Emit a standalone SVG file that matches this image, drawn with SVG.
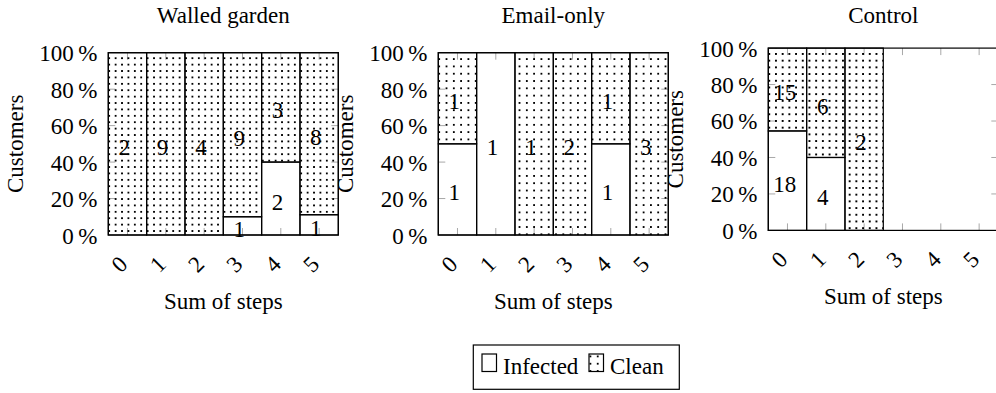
<svg xmlns="http://www.w3.org/2000/svg" xmlns:xlink="http://www.w3.org/1999/xlink" width="996" height="393" viewBox="0 0 996 393" font-family="'Liberation Serif', 'DejaVu Serif', serif">
  <style>
    .t { font-family: 'Liberation Serif', 'DejaVu Serif', serif; font-size: 23px; fill: #000; }
    .mid { text-anchor: middle; }
    .end { text-anchor: end; }
    .inf { fill: none; stroke: #000; stroke-width: 1.2; }
    .cln { stroke: #000; stroke-width: 1.2; }
    .c1 { fill: url(#dots1); }
    .c2 { fill: url(#dots2); }
    .c3 { fill: url(#dots3); }
    .tick { stroke: #a8a8a8; stroke-width: 1; fill: none; }
    .frame { fill: none; stroke: #000; stroke-width: 1.2; }
    .dot { fill: #000; shape-rendering: crispEdges; }
  </style>
  <defs>
    <!-- dot hatches used for the "Clean" segments -->
    <pattern id="dots1" patternUnits="userSpaceOnUse" x="108.3" y="50.9" width="6.4" height="6.4">
      <rect class="dot" x="0" y="0" width="2" height="2"/>
    </pattern>
    <pattern id="dots2" patternUnits="userSpaceOnUse" x="108.3" y="50.9" width="7.3" height="7.3">
      <rect class="dot" x="0" y="0" width="2" height="2"/>
    </pattern>
    <pattern id="dots3" patternUnits="userSpaceOnUse" x="108.3" y="50.9" width="6.7" height="6.7">
      <rect class="dot" x="0" y="0" width="2" height="2"/>
    </pattern>
    <pattern id="dotsL" patternUnits="userSpaceOnUse" x="589.5" y="355.5" width="7.3" height="7.3">
      <rect class="dot" x="0" y="0" width="2" height="2"/>
    </pattern>
    <!-- inner tick marks of one axis box (box: x 108.3..338.3, y 52.7..235) -->
    <g id="ticks" class="tick">
      <path d="M108.3 198.54h7M108.3 162.08h7M108.3 125.62h7M108.3 89.16h7"/>
      <path d="M338.3 198.54h-7M338.3 162.08h-7M338.3 125.62h-7M338.3 89.16h-7"/>
      <path d="M127.47 235v-7M165.8 235v-7M204.13 235v-7M242.47 235v-7M280.8 235v-7M319.13 235v-7"/>
      <path d="M127.47 52.7v7M165.8 52.7v7M204.13 52.7v7M242.47 52.7v7M280.8 52.7v7M319.13 52.7v7"/>
    </g>
  </defs>

  <!-- Panel 1: Walled garden -->
  <g id="panel-walled-garden">
    <text class="t mid" x="223.3" y="22.7">Walled garden</text>
    <use xlink:href="#ticks"/>
    <g id="wg-bars">
      <rect class="cln c1" x="108.3" y="52.7" width="38.33" height="182.3"/>
      <rect class="cln c1" x="146.63" y="52.7" width="38.33" height="182.3"/>
      <rect class="cln c1" x="184.97" y="52.7" width="38.33" height="182.3"/>
      <rect class="inf" x="223.3" y="216.77" width="38.33" height="18.23"/>
      <rect class="cln c1" x="223.3" y="52.7" width="38.33" height="164.07"/>
      <rect class="inf" x="261.63" y="162.08" width="38.33" height="72.92"/>
      <rect class="cln c1" x="261.63" y="52.7" width="38.33" height="109.38"/>
      <rect class="inf" x="299.97" y="214.74" width="38.33" height="20.26"/>
      <rect class="cln c1" x="299.97" y="52.7" width="38.33" height="162.04"/>
    </g>
    <g id="wg-values" class="t mid">
      <text x="124.2" y="154.9">2</text>
      <text x="162.5" y="154.9">9</text>
      <text x="200.9" y="154.9">4</text>
      <text x="239.2" y="236.9">1</text>
      <text x="239.2" y="145.7">9</text>
      <text x="277.5" y="209.5">2</text>
      <text x="277.5" y="118.4">3</text>
      <text x="315.8" y="235.9">1</text>
      <text x="315.8" y="144.7">8</text>
    </g>
    <rect class="frame" x="108.3" y="52.7" width="230" height="182.3"/>
    <g class="t end">
      <text x="97.5" y="243.5">0&#8201;%</text>
      <text x="97.5" y="207">20&#8201;%</text>
      <text x="97.5" y="170.6">40&#8201;%</text>
      <text x="97.5" y="134.1">60&#8201;%</text>
      <text x="97.5" y="97.7">80&#8201;%</text>
      <text x="97.5" y="61.2">100&#8201;%</text>
    </g>
    <g class="t end">
      <text transform="translate(129 265.5) rotate(-45)">0</text>
      <text transform="translate(167.3 265.5) rotate(-45)">1</text>
      <text transform="translate(205.6 265.5) rotate(-45)">2</text>
      <text transform="translate(244 265.5) rotate(-45)">3</text>
      <text transform="translate(282.3 265.5) rotate(-45)">4</text>
      <text transform="translate(320.6 265.5) rotate(-45)">5</text>
    </g>
    <text class="t mid" x="223.3" y="309">Sum of steps</text>
    <text class="t mid" transform="translate(23.4 143.85) rotate(-90)">Customers</text>
  </g>

  <!-- Panel 2: Email-only -->
  <g id="panel-email-only" transform="translate(330 0)">
    <text class="t mid" x="223.3" y="22.7">Email-only</text>
    <use xlink:href="#ticks"/>
    <g id="eo-bars">
      <rect class="inf" x="108.3" y="143.85" width="38.33" height="91.15"/>
      <rect class="cln c2" x="108.3" y="52.7" width="38.33" height="91.15"/>
      <rect class="inf" x="146.63" y="52.7" width="38.33" height="182.3"/>
      <rect class="cln c2" x="184.97" y="52.7" width="38.33" height="182.3"/>
      <rect class="cln c2" x="223.3" y="52.7" width="38.33" height="182.3"/>
      <rect class="inf" x="261.63" y="143.85" width="38.33" height="91.15"/>
      <rect class="cln c2" x="261.63" y="52.7" width="38.33" height="91.15"/>
      <rect class="cln c2" x="299.97" y="52.7" width="38.33" height="182.3"/>
    </g>
    <g id="eo-values" class="t mid">
      <text x="124.2" y="200.4">1</text>
      <text x="124.2" y="109.3">1</text>
      <text x="162.5" y="154.9">1</text>
      <text x="200.9" y="154.9">1</text>
      <text x="239.2" y="154.9">2</text>
      <text x="277.5" y="200.4">1</text>
      <text x="277.5" y="109.3">1</text>
      <text x="315.8" y="154.9">3</text>
    </g>
    <rect class="frame" x="108.3" y="52.7" width="230" height="182.3"/>
    <g class="t end">
      <text x="97.5" y="243.5">0&#8201;%</text>
      <text x="97.5" y="207">20&#8201;%</text>
      <text x="97.5" y="170.6">40&#8201;%</text>
      <text x="97.5" y="134.1">60&#8201;%</text>
      <text x="97.5" y="97.7">80&#8201;%</text>
      <text x="97.5" y="61.2">100&#8201;%</text>
    </g>
    <g class="t end">
      <text transform="translate(129 265.5) rotate(-45)">0</text>
      <text transform="translate(167.3 265.5) rotate(-45)">1</text>
      <text transform="translate(205.6 265.5) rotate(-45)">2</text>
      <text transform="translate(244 265.5) rotate(-45)">3</text>
      <text transform="translate(282.3 265.5) rotate(-45)">4</text>
      <text transform="translate(320.6 265.5) rotate(-45)">5</text>
    </g>
    <text class="t mid" x="223.3" y="309">Sum of steps</text>
    <text class="t mid" transform="translate(23.4 143.85) rotate(-90)">Customers</text>
  </g>

  <!-- Panel 3: Control -->
  <g id="panel-control" transform="translate(660 -4.6)">
    <text class="t mid" x="223.3" y="27.3">Control</text>
    <use xlink:href="#ticks"/>
    <g id="ct-bars">
      <rect class="inf" x="108.3" y="135.56" width="38.33" height="99.44"/>
      <rect class="cln c3" x="108.3" y="52.7" width="38.33" height="82.86"/>
      <rect class="inf" x="146.63" y="162.08" width="38.33" height="72.92"/>
      <rect class="cln c3" x="146.63" y="52.7" width="38.33" height="109.38"/>
      <rect class="cln c3" x="184.97" y="52.7" width="38.33" height="182.3"/>
    </g>
    <g id="ct-values" class="t mid">
      <text x="124.7" y="196.3">18</text>
      <text x="124.7" y="105.1">15</text>
      <text x="162.8" y="209.5">4</text>
      <text x="162.8" y="118.6">6</text>
      <text x="201" y="154.3">2</text>
    </g>
    <rect class="frame" x="108.3" y="52.7" width="230" height="182.3"/>
    <g class="t end">
      <text x="97.5" y="243.5">0&#8201;%</text>
      <text x="97.5" y="207">20&#8201;%</text>
      <text x="97.5" y="170.6">40&#8201;%</text>
      <text x="97.5" y="134.1">60&#8201;%</text>
      <text x="97.5" y="97.7">80&#8201;%</text>
      <text x="97.5" y="61.2">100&#8201;%</text>
    </g>
    <g class="t end">
      <text transform="translate(129 265.5) rotate(-45)">0</text>
      <text transform="translate(167.3 265.5) rotate(-45)">1</text>
      <text transform="translate(205.6 265.5) rotate(-45)">2</text>
      <text transform="translate(244 265.5) rotate(-45)">3</text>
      <text transform="translate(282.3 265.5) rotate(-45)">4</text>
      <text transform="translate(320.6 265.5) rotate(-45)">5</text>
    </g>
    <text class="t mid" x="223.3" y="309">Sum of steps</text>
    <text class="t mid" transform="translate(23.4 143.85) rotate(-90)">Customers</text>
  </g>

  <!-- Shared legend -->
  <g id="legend">
    <rect x="473.3" y="345" width="206" height="44.3" fill="#fff" stroke="#000" stroke-width="1.2"/>
    <rect class="inf" x="482" y="354" width="14.5" height="17.5" stroke-width="1"/>
    <text class="t" x="503" y="374">Infected</text>
    <rect class="cln" x="589" y="354" width="14.5" height="17.5" stroke-width="1" fill="url(#dotsL)"/>
    <text class="t" x="610" y="374">Clean</text>
  </g>
</svg>
